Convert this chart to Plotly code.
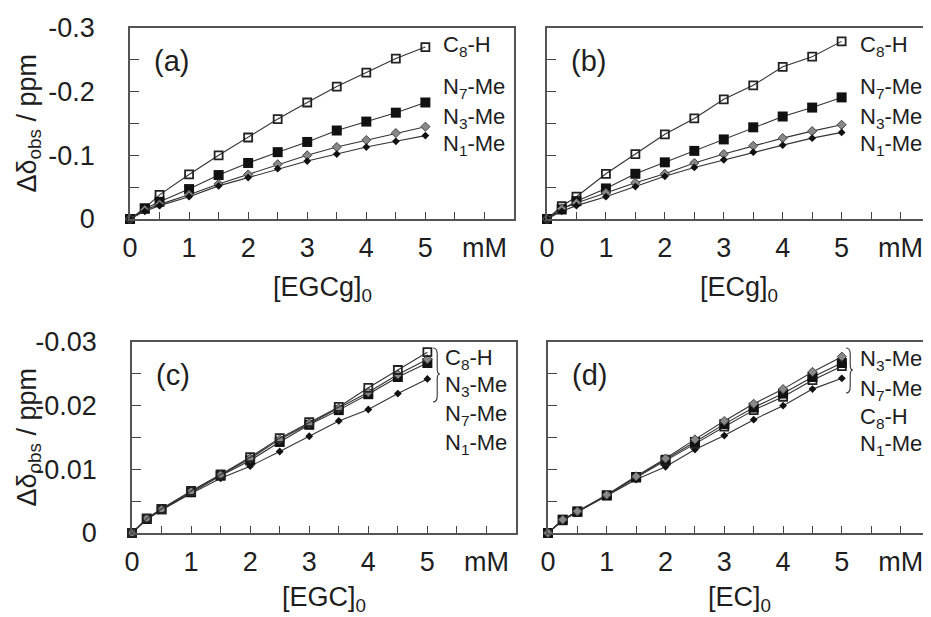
import plotly.graph_objects as go

W, H = 931, 617
OFF = 8  # page body margin offset of the figure in the browser

conc = [0, 0.25, 0.5, 1, 1.5, 2, 2.5, 3, 3.5, 4, 4.5, 5]

# panel (a) EGCg
C8H_a = [0, -0.017, -0.038, -0.070, -0.100, -0.128, -0.157, -0.183, -0.208, -0.230, -0.252, -0.270]
N7_a = [0, -0.016, -0.027, -0.047, -0.069, -0.088, -0.105, -0.121, -0.139, -0.153, -0.167, -0.183]
N3_a = [0, -0.0145, -0.023, -0.038, -0.055, -0.070, -0.086, -0.100, -0.113, -0.124, -0.135, -0.145]
N1_a = [0, -0.012, -0.021, -0.035, -0.052, -0.065, -0.079, -0.091, -0.102, -0.113, -0.122, -0.131]
# panel (b) ECg
C8H_b = [0, -0.020, -0.035, -0.071, -0.102, -0.133, -0.158, -0.188, -0.210, -0.239, -0.255, -0.279]
N7_b = [0, -0.015, -0.028, -0.048, -0.071, -0.089, -0.107, -0.125, -0.144, -0.161, -0.175, -0.191]
N3_b = [0, -0.016, -0.025, -0.041, -0.057, -0.071, -0.088, -0.102, -0.115, -0.127, -0.138, -0.148]
N1_b = [0, -0.012, -0.021, -0.035, -0.051, -0.067, -0.081, -0.093, -0.105, -0.116, -0.127, -0.136]
# panel (c) EGC
C8H_c = [0, -0.0023, -0.0038, -0.0066, -0.0092, -0.0119, -0.0149, -0.0174, -0.0198, -0.0228, -0.0256, -0.0284]
N3_c = [0, -0.0023, -0.0037, -0.0065, -0.0091, -0.0117, -0.0147, -0.0172, -0.0196, -0.0221, -0.0249, -0.0273]
N7_c = [0, -0.0022, -0.0037, -0.0064, -0.0090, -0.0114, -0.0143, -0.0170, -0.0193, -0.0218, -0.0245, -0.0267]
N1_c = [0, -0.0021, -0.0036, -0.0062, -0.0086, -0.0105, -0.0128, -0.0152, -0.0176, -0.0194, -0.0219, -0.0242]
# panel (d) EC
N3_d = [0, -0.0021, -0.0034, -0.0060, -0.0089, -0.0117, -0.0147, -0.0176, -0.0203, -0.0226, -0.0253, -0.0277]
N7_d = [0, -0.0021, -0.0034, -0.0059, -0.0088, -0.0115, -0.0143, -0.0171, -0.0197, -0.0219, -0.0245, -0.0267]
C8H_d = [0, -0.0020, -0.0033, -0.0059, -0.0087, -0.0113, -0.0140, -0.0167, -0.0193, -0.0214, -0.0240, -0.0262]
N1_d = [0, -0.0020, -0.0033, -0.0058, -0.0084, -0.0104, -0.0131, -0.0153, -0.0178, -0.0200, -0.0226, -0.0243]

panel_tags = ["(a)", "(b)", "(c)", "(d)"]
x_titles = ["[EGCg]<sub>0</sub>", "[ECg]<sub>0</sub>", "[EGC]<sub>0</sub>", "[EC]<sub>0</sub>"]
y_title = "Δδ<sub>obs</sub> / ppm"
x_tickvals = [0, 1, 2, 3, 4, 5, 6]
x_ticktext = ["0", "1", "2", "3", "4", "5", "mM"]
x_minorvals = [0.5, 1.5, 2.5, 3.5, 4.5, 5.5, 6.5]
y_top_vals = [0, -0.1, -0.2, -0.3]
y_top_text = ["0", "-0.1", "-0.2", "-0.3"]
y_top_minor = [-0.05, -0.15, -0.25]
y_bot_vals = [0, -0.01, -0.02, -0.03]
y_bot_text = ["0", "-0.01", "-0.02", "-0.03"]
y_bot_minor = [-0.005, -0.015, -0.025]

lab_C8 = "C<sub>8</sub>-H"
lab_N7 = "N<sub>7</sub>-Me"
lab_N3 = "N<sub>3</sub>-Me"
lab_N1 = "N<sub>1</sub>-Me"

panels = [
    dict(series=[(C8H_a, "C8"), (N7_a, "N7"), (N3_a, "N3"), (N1_a, "N1")],
         labels=[(lab_C8, -0.272), (lab_N7, -0.205), (lab_N3, -0.159), (lab_N1, -0.116)]),
    dict(series=[(C8H_b, "C8"), (N7_b, "N7"), (N3_b, "N3"), (N1_b, "N1")],
         labels=[(lab_C8, -0.272), (lab_N7, -0.205), (lab_N3, -0.159), (lab_N1, -0.116)]),
    dict(series=[(N1_c, "N1"), (N7_c, "N7"), (N3_c, "N3"), (C8H_c, "C8")],
         labels=[(lab_C8, -0.0273), (lab_N3, -0.0231), (lab_N7, -0.0185), (lab_N1, -0.0140)]),
    dict(series=[(N1_d, "N1"), (C8H_d, "C8"), (N7_d, "N7"), (N3_d, "N3")],
         labels=[(lab_N3, -0.0272), (lab_N7, -0.0224), (lab_C8, -0.0181), (lab_N1, -0.0138)]),
]

marker_styles = {
    "C8": dict(symbol="square-open", size=8, color="#222", line=dict(width=1.8, color="#222")),
    "N7": dict(symbol="square", size=10, color="#111", line=dict(width=0)),
    "N3": dict(symbol="diamond", size=7, color="#888", line=dict(width=1, color="#444")),
    "N1": dict(symbol="diamond", size=6, color="#111", line=dict(width=0)),
}

# plot areas in screen pixels: (left, right, top, bottom)
boxes = [(130, 514, 28, 219), (547, 930, 28, 219), (132, 516, 342, 533), (548, 930, 342, 533)]

def px(x):
    return (x - OFF) / W

def py(y):
    return 1 - (y - OFF) / H

TXT = "#1e1e1e"
FONT = "Liberation Sans, Arial, sans-serif"

fig = go.Figure()
layout = dict(
    width=W, height=H, margin=dict(l=0, r=0, t=0, b=0, pad=0),
    paper_bgcolor="white", plot_bgcolor="white", showlegend=False,
    font=dict(family=FONT, color=TXT, size=26),
)

annotations = []
shapes = []
for i, p in enumerate(panels):
    k = "" if i == 0 else str(i + 1)
    xa, ya = "x" + k, "y" + k
    for vals, key in p["series"]:
        fig.add_trace(go.Scatter(
            x=conc, y=vals, xaxis=xa, yaxis=ya, mode="lines+markers",
            line=dict(color="#333", width=1.1), marker=marker_styles[key],
            cliponaxis=False))
    l, r, t, b = boxes[i]
    top = i < 2
    layout["xaxis" + k] = dict(
        domain=[px(l), px(r)], anchor=ya, range=[0, 6.5], automargin=False,
        tickmode="array", tickvals=x_tickvals, ticktext=x_ticktext,
        ticks="inside", ticklen=7, tickwidth=1.3, tickcolor="#444",
        minor=dict(tickmode="array", tickvals=x_minorvals, ticks="inside",
                   ticklen=7, tickwidth=1.3, tickcolor="#444", showgrid=False),
        showline=True, linecolor="#555", linewidth=1.6, mirror=True,
        showgrid=False, zeroline=False, tickfont=dict(size=27, color=TXT),
        ticklabelstandoff=4)
    layout["yaxis" + k] = dict(
        domain=[py(b), py(t)], anchor=xa, automargin=False,
        range=[0, -0.3] if top else [0, -0.03],
        tickmode="array",
        tickvals=y_top_vals if top else y_bot_vals,
        ticktext=y_top_text if top else y_bot_text,
        minor=dict(tickmode="array", tickvals=y_top_minor if top else y_bot_minor,
                   ticks="inside", ticklen=9, tickwidth=1.3, tickcolor="#444",
                   showgrid=False),
        showticklabels=(i % 2 == 0),
        ticks="inside", ticklen=9, tickwidth=1.3, tickcolor="#444",
        showline=True, linecolor="#555", linewidth=1.6, mirror=True,
        showgrid=False, zeroline=False, tickfont=dict(size=27, color=TXT),
        ticklabelstandoff=28)
    # panel tag
    annotations.append(dict(text=panel_tags[i], xref="paper", yref="paper",
                            x=px(l + 22), y=py(t + 33),
                            xanchor="left", yanchor="middle", showarrow=False,
                            font=dict(size=29, color=TXT)))
    # x title
    annotations.append(dict(text=x_titles[i], xref="paper", yref="paper",
                            x=px((l + r) / 2), y=py(b + (70 if top else 66)),
                            xanchor="center", yanchor="middle", showarrow=False,
                            font=dict(size=27, color=TXT)))
    # series labels
    for txt, yv in p["labels"]:
        annotations.append(dict(text=txt, xref=xa, yref=ya, x=5.27, y=yv,
                                xanchor="left", yanchor="middle", showarrow=False,
                                font=dict(size=22, color=TXT)))
    if i % 2 == 0:
        annotations.append(dict(text=y_title, xref="paper", yref="paper",
                                x=px(28), y=py((t + b) / 2),
                                xanchor="center", yanchor="middle", textangle=-90,
                                showarrow=False, font=dict(size=27, color=TXT)))

def brace(x0, y0, y1, ym, w=7):
    xm = x0 + w * 0.6
    pts = (f"M {px(x0)},{py(y0)} Q {px(xm)},{py(y0)} {px(xm)},{py(y0 + 6)} "
           f"L {px(xm)},{py(ym - 5)} Q {px(xm)},{py(ym)} {px(x0 + w)},{py(ym)} "
           f"Q {px(xm)},{py(ym)} {px(xm)},{py(ym + 5)} "
           f"L {px(xm)},{py(y1 - 6)} Q {px(xm)},{py(y1)} {px(x0)},{py(y1)}")
    return dict(type="path", xref="paper", yref="paper", path=pts,
                line=dict(color="#333", width=1.1))

shapes.append(brace(433, 348, 402, 374))
shapes.append(brace(846, 348, 393, 370))

layout["annotations"] = annotations
layout["shapes"] = shapes
fig.update_layout(**layout)
fig.write_html("out.html")
